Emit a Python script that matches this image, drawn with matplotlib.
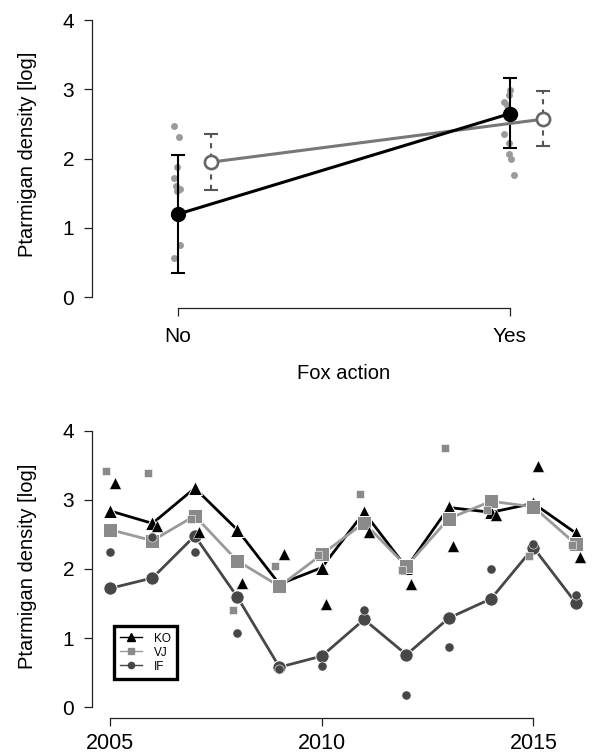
import matplotlib
matplotlib.use("Agg")
import matplotlib.pyplot as plt
from matplotlib.lines import Line2D

plt.rcParams['font.family'] = ['Liberation Sans', 'DejaVu Sans']

# ---------------- Top panel data ----------------
fox_levels = ["No", "Yes"]
fox_pos = [0, 1]
filled_mean = [1.20, 2.65]
filled_lo = [0.35, 2.15]
filled_hi = [2.05, 3.17]
open_mean = [1.95, 2.57]
open_lo = [1.55, 2.18]
open_hi = [2.35, 2.97]
raw_no = [2.47, 2.31, 1.88, 1.72, 1.60, 1.56, 1.54, 0.75, 0.57]
raw_no_jit = [-0.011, 0.004, -0.003, -0.011, -0.006, 0.007, -0.003, 0.007, -0.013]
raw_yes = [2.99, 2.92, 2.82, 2.77, 2.72, 2.36, 2.22, 2.07, 2.00, 1.76]
raw_yes_jit = [0.0, -0.002, -0.018, -0.010, -0.005, -0.018, -0.002, -0.002, 0.002, 0.011]

# ---------------- Bottom panel data ----------------
years = [2005, 2006, 2007, 2008, 2009, 2010, 2011, 2012, 2013, 2014, 2015, 2016]
ko_mean = [2.84, 2.66, 3.17, 2.57, 1.78, 2.02, 2.82, 2.02, 2.89, 2.82, 2.95, 2.52]
vj_mean = [2.57, 2.41, 2.77, 2.12, 1.75, 2.21, 2.67, 2.04, 2.73, 2.98, 2.90, 2.36]
if_mean = [1.72, 1.87, 2.48, 1.60, 0.58, 0.74, 1.27, 0.76, 1.29, 1.57, 2.31, 1.51]
ko_site = [3.25, 2.62, 2.54, 1.80, 2.21, 1.50, 2.53, 1.79, 2.33, 2.78, 3.49, 2.18]
vj_site = [3.42, 3.39, 2.73, 1.41, 2.04, 2.20, 3.09, 1.98, 3.75, 2.85, 2.19, 2.35]
if_site = [2.25, 2.46, 2.25, 1.07, 0.55, 0.59, 1.40, 0.18, 0.87, 2.00, 2.36, 1.62]
series_names = ["KO", "VJ", "IF"]
year_ticks = [2005, 2010, 2015]
y_ticks = [0, 1, 2, 3, 4]

W, H = 592, 756
fig = plt.figure(figsize=(W / 100, H / 100), dpi=100)

AX_COL = '#222222'
TICK_FS = 15
LAB_FS = 14.5


def style_axes(ax, xbounds):
    for s in ('top', 'right'):
        ax.spines[s].set_visible(False)
    for s in ('left', 'bottom'):
        ax.spines[s].set_color(AX_COL)
        ax.spines[s].set_linewidth(0.9)
    ax.spines['left'].set_bounds(0, 4)
    ax.spines['bottom'].set_bounds(*xbounds)
    ax.tick_params(direction='out', length=6, width=0.9, color=AX_COL,
                   labelsize=TICK_FS, labelcolor='black')
    ax.tick_params(axis='y', pad=6.5)
    ax.set_yticks(y_ticks)
    ax.set_ylim(-0.16, 4.16)
    ax.set_facecolor('none')


# ---------------- Top axes ----------------
L = 91.5
ax1 = fig.add_axes([L / W, 1 - 308.3 / H, (596 - L) / W, (308.3 - 9) / H])
style_axes(ax1, (0, 1))
ax1.set_xlim(-0.2605, 1.259)
ax1.set_xticks(fox_pos)
ax1.set_xticklabels(fox_levels)
ax1.tick_params(axis='x', pad=7.5)

off = 0.1
ax1.plot([fox_pos[0] + j for j in raw_no_jit], raw_no, 'o', color='#9a9a9a',
         ms=5, mew=0, zorder=1)
ax1.plot([fox_pos[1] + j for j in raw_yes_jit], raw_yes, 'o', color='#9a9a9a',
         ms=5, mew=0, zorder=1)

# open (grey) series
ox = [p + off for p in fox_pos]
eb = ax1.errorbar(ox, open_mean,
                  yerr=[[m - l for m, l in zip(open_mean, open_lo)],
                        [h - m for m, h in zip(open_mean, open_hi)]],
                  fmt='none', ecolor='#555555', elinewidth=1.5, capsize=5,
                  capthick=1.5, zorder=2)
eb[2][0].set_linestyle((0, (2.5, 2.5)))
ax1.plot(ox, open_mean, '-', color='#777777', lw=2.2, zorder=3)
ax1.plot(ox, open_mean, 'o', mfc='white', mec='#666666', mew=1.9, ms=9.5, zorder=4)

# filled (black) series
ax1.errorbar(fox_pos, filled_mean,
             yerr=[[m - l for m, l in zip(filled_mean, filled_lo)],
                   [h - m for m, h in zip(filled_mean, filled_hi)]],
             fmt='none', ecolor='black', elinewidth=1.5, capsize=5,
             capthick=1.5, zorder=2)
ax1.plot(fox_pos, filled_mean, '-', color='black', lw=2.2, zorder=3)
ax1.plot(fox_pos, filled_mean, 'o', color='black', ms=10, zorder=5)

ax1.set_xlabel('Fox action', fontsize=LAB_FS)
ax1.xaxis.set_label_coords(0.5, -0.186)
ax1.set_ylabel('Ptarmigan density [log]', fontsize=LAB_FS)
ax1.yaxis.set_label_coords((37 - L) / (596 - L), 0.515)

# ---------------- Bottom axes ----------------
R2 = 594.4
ax2 = fig.add_axes([L / W, 1 - 718.3 / H, (R2 - L) / W, 298.6 / H])
style_axes(ax2, (2005, 2015))
ax2.set_xlim(2004.56, 2016.44)
ax2.set_xticks(year_ticks)
ax2.set_xticklabels([str(y) for y in year_ticks])
ax2.tick_params(axis='x', pad=4.5, labelsize=15.5)

KO_C, VJ_C, VJ_LC, IF_C = 'black', '#8a8a8a', '#9a9a9a', '#474747'

ax2.plot(years, ko_mean, '-', color=KO_C, lw=2.0, zorder=2)
ax2.plot(years, ko_mean, '^', color=KO_C, ms=10.6, mec='white', mew=0.7, zorder=3)
ax2.plot(years, vj_mean, '-', color=VJ_LC, lw=2.0, zorder=4)
ax2.plot(years, vj_mean, 's', color=VJ_C, ms=9.4, mec='white', mew=0.7, zorder=5)
ax2.plot(years, if_mean, '-', color=IF_C, lw=2.0, zorder=6)
ax2.plot(years, if_mean, 'o', color=IF_C, ms=9.6, mec='white', mew=0.7, zorder=7)

ax2.plot([y + 0.11 for y in years], ko_site, '^', color=KO_C, ms=8.0,
         mec='white', mew=0.4, zorder=8)
ax2.plot([y - 0.10 for y in years], vj_site, 's', color=VJ_C, ms=5.6,
         mec='white', mew=0.4, zorder=8)
ax2.plot(years, if_site, 'o', color=IF_C, ms=6.6, mec='white', mew=0.4, zorder=8)

ax2.set_ylabel('Ptarmigan density [log]', fontsize=LAB_FS)
ax2.yaxis.set_label_coords((37 - L) / (R2 - L), 0.51)

handles = [
    Line2D([], [], color=KO_C, lw=1.0, marker='^', ms=5.5),
    Line2D([], [], color=VJ_LC, lw=1.0, marker='s', ms=4.5, mfc=VJ_C, mec=VJ_C),
    Line2D([], [], color=IF_C, lw=1.0, marker='o', ms=4.5),
]
leg = ax2.legend(handles, series_names, loc='upper left',
                 bbox_to_anchor=((114.3 - L) / (R2 - L), (718.3 - 625.5) / 298.6),
                 borderaxespad=0, fontsize=8.5, frameon=True, fancybox=False,
                 borderpad=0.5, handlelength=1.86, handletextpad=1.0,
                 handleheight=1.25, labelspacing=0.08)
leg.get_frame().set_edgecolor('black')
leg.get_frame().set_linewidth(2.4)
leg.get_frame().set_facecolor('white')
leg.get_frame().set_alpha(1)

fig.savefig('out.png', dpi=100)
